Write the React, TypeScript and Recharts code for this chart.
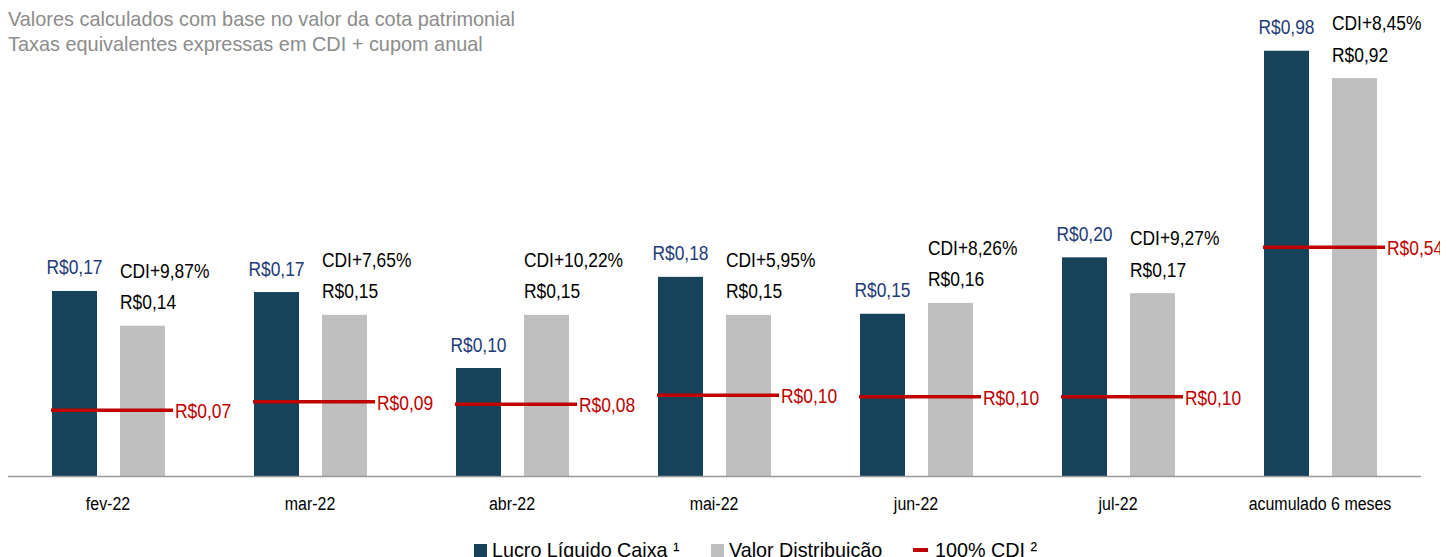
import React from "react";
import { BarChart, Bar, XAxis, YAxis } from "recharts";

const categories = ["fev-22", "mar-22", "abr-22", "mai-22", "jun-22", "jul-22", "acumulado 6 meses"];

// monthly values (left scale), accumulated values (own scale)
const lucro = [0.171, 0.17, 0.1, 0.184, 0.15, 0.202, null];
const lucroAcum = [null, null, null, null, null, null, 0.981];
const distrib = [0.139, 0.149, 0.149, 0.149, 0.16, 0.169, null];
const distribAcum = [null, null, null, null, null, null, 0.918];
const cdi = [0.061, 0.069, 0.0665, 0.075, 0.0735, 0.0735, null];
const cdiAcum = [null, null, null, null, null, null, 0.528];

const lucroLabels = ["R$0,17", "R$0,17", "R$0,10", "R$0,18", "R$0,15", "R$0,20", "R$0,98"];
const distribLabels = ["R$0,14", "R$0,15", "R$0,15", "R$0,15", "R$0,16", "R$0,17", "R$0,92"];
const spreadLabels = ["CDI+9,87%", "CDI+7,65%", "CDI+10,22%", "CDI+5,95%", "CDI+8,26%", "CDI+9,27%", "CDI+8,45%"];
const cdiLabels = ["R$0,07", "R$0,09", "R$0,08", "R$0,10", "R$0,10", "R$0,10", "R$0,54"];

const data = categories.map((name, i) => ({
  name,
  lucro: lucro[i],
  lucroAcum: lucroAcum[i],
  distrib: distrib[i],
  distribAcum: distribAcum[i],
  cdi: cdi[i],
  cdiAcum: cdiAcum[i],
  lucroLabel: lucroLabels[i],
  distribLabel: distribLabels[i],
  spreadLabel: spreadLabels[i],
  cdiLabel: cdiLabels[i],
}));

const FONT = "'Liberation Sans', Arial, sans-serif";
const NARROW = 0.87; // condensed look of the original labels
const DARK = "#17435a";
const GREY = "#bfbfbf";
const RED = "#c00000";
const NAVY = "#1f3b78";

const NText = ({ x, y, anchor = "start", fill, size = 20, scale = NARROW, children }: any) => (
  <text
    transform={`translate(${x},${y}) scale(${scale},1)`}
    textAnchor={anchor}
    fill={fill}
    fontSize={size}
    fontFamily={FONT}
  >
    {children}
  </text>
);

const lucroShape = (key: string) => (props: any) => {
  const { x, y, width, height, payload } = props;
  if (payload[key] == null) return <g />;
  return (
    <g>
      <rect x={x} y={y} width={width} height={height} fill={DARK} />
      <NText x={x + width / 2} y={y - 16.5} anchor="middle" fill={NAVY}>
        {payload.lucroLabel}
      </NText>
    </g>
  );
};

const distribShape = (key: string) => (props: any) => {
  const { x, y, width, height, payload } = props;
  if (payload[key] == null) return <g />;
  return (
    <g>
      <rect x={x} y={y} width={width} height={height} fill={GREY} />
      <NText x={x} y={y - 16.5} fill="#000">
        {payload.distribLabel}
      </NText>
      <NText x={x} y={y - 48} fill="#000">
        {payload.spreadLabel}
      </NText>
    </g>
  );
};

const cdiShape = (key: string) => (props: any) => {
  const { x, y, width, payload } = props;
  if (payload[key] == null) return <g />;
  const x0 = x + 4;
  const x1 = x + width + 4;
  return (
    <g>
      <line x1={x0} x2={x1} y1={y} y2={y} stroke={RED} strokeWidth={3.5} />
      <NText x={x1 + 2} y={y + 8} fill={RED}>
        {payload.cdiLabel}
      </NText>
    </g>
  );
};

const CategoryTick = (props: any) => {
  const { x, y, payload } = props;
  return (
    <NText x={x} y={y + 25} anchor="middle" fill="#000" size={19} scale={0.84}>
      {payload.value}
    </NText>
  );
};

const legendItems = [
  { label: "Lucro Líquido Caixa ¹", left: 474, kind: "box", color: DARK },
  { label: "Valor Distribuição", left: 711, kind: "box", color: GREY },
  { label: "100% CDI ²", left: 913, kind: "line", color: RED },
];

export default function App() {
  return (
    <div style={{ position: "relative", width: 1448, height: 557, margin: "-8px 0 0 -8px", overflow: "hidden", fontFamily: FONT }}>
      <div
        style={{
          position: "absolute",
          left: 8,
          top: 6,
          fontSize: 21,
          lineHeight: "25px",
          color: "#8c8c8c",
          whiteSpace: "nowrap",
          transform: "scaleX(0.947)",
          transformOrigin: "left top",
        }}
      >
        <div>Valores calculados com base no valor da cota patrimonial</div>
        <div>Taxas equivalentes expressas em CDI + cupom anual</div>
      </div>

      <BarChart
        width={1448}
        height={557}
        data={data}
        margin={{ top: 42.5, right: 27, left: 7, bottom: 50.5 }}
        barGap={23}
      >
        <XAxis xAxisId="line" dataKey="name" hide height={0} />
        <XAxis
          xAxisId="main"
          dataKey="name"
          height={30}
          axisLine={{ stroke: "#999999", strokeWidth: 1.5 }}
          tickLine={false}
          interval={0}
          tick={<CategoryTick />}
        />
        <YAxis yAxisId="left" domain={[0, 0.4]} hide />
        <YAxis yAxisId="right" domain={[0, 1]} hide />

        <Bar xAxisId="main" yAxisId="left" dataKey="lucro" stackId="lucro" barSize={45} shape={lucroShape("lucro")} isAnimationActive={false} />
        <Bar xAxisId="main" yAxisId="right" dataKey="lucroAcum" stackId="lucro" barSize={45} shape={lucroShape("lucroAcum")} isAnimationActive={false} />
        <Bar xAxisId="main" yAxisId="left" dataKey="distrib" stackId="dist" barSize={45} shape={distribShape("distrib")} isAnimationActive={false} />
        <Bar xAxisId="main" yAxisId="right" dataKey="distribAcum" stackId="dist" barSize={45} shape={distribShape("distribAcum")} isAnimationActive={false} />

        <Bar xAxisId="line" yAxisId="left" dataKey="cdi" stackId="cdi" barSize={122} shape={cdiShape("cdi")} isAnimationActive={false} />
        <Bar xAxisId="line" yAxisId="right" dataKey="cdiAcum" stackId="cdi" barSize={122} shape={cdiShape("cdiAcum")} isAnimationActive={false} />
      </BarChart>

      {legendItems.map((item) => (
        <div
          key={item.label}
          style={{ position: "absolute", left: item.left, top: 538, display: "flex", alignItems: "center", fontSize: 21, lineHeight: "24px", color: "#000", whiteSpace: "nowrap" }}
        >
          {item.kind === "box" ? (
            <span style={{ display: "inline-block", width: 13, height: 13, background: item.color, marginRight: 5 }} />
          ) : (
            <span style={{ display: "inline-block", width: 15, height: 4, background: item.color, marginRight: 7 }} />
          )}
          <span style={{ display: "inline-block", transform: "scaleX(0.94)", transformOrigin: "left center" }}>{item.label}</span>
        </div>
      ))}
    </div>
  );
}
